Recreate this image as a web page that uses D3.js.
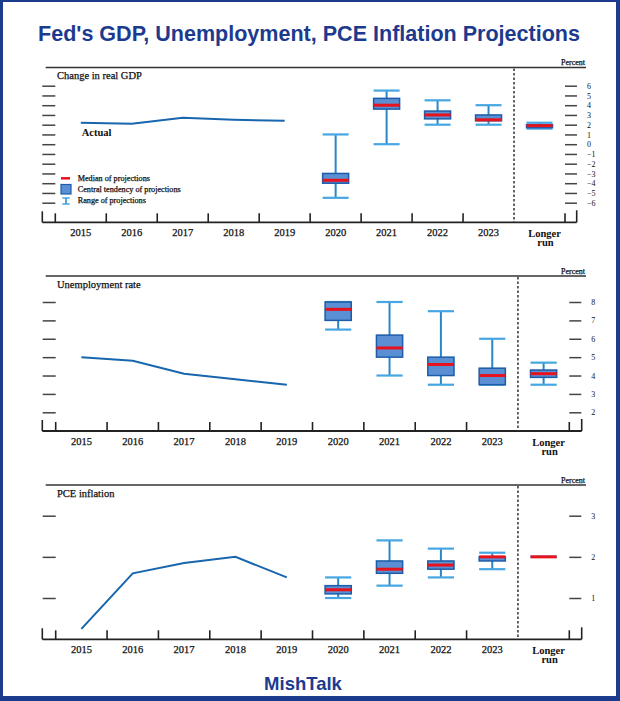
<!DOCTYPE html>
<html>
<head>
<meta charset="utf-8">
<script src="https://cdn.jsdelivr.net/npm/d3@7"></script>
<style>
  body { margin: 0; background: #fff; }
  svg { display: block; }
  text { font-family: "Liberation Serif", "Times New Roman", serif; fill: #111; }
  .heavy { stroke: #111; stroke-width: 0.25px; }
</style>
</head>
<body>
<svg id="chart" width="620" height="701"></svg>
<script>
// categories along the x axis
var categories = ["2015", "2016", "2017", "2018", "2019", "2020", "2021", "2022", "2023", "Longer run"];
var actualYears = ["2015", "2016", "2017", "2018", "2019"];
var projYears = ["2020", "2021", "2022", "2023", "Longer run"];

// Change in real GDP
var gdpActual = [2.2, 2.1, 2.7, 2.5, 2.4];
var gdpMedian = [-3.7, 4.0, 3.0, 2.5, 1.9];
var gdpCtLow = [-4.0, 3.6, 2.6, 2.4, 1.7];
var gdpCtHigh = [-3.0, 4.7, 3.4, 3.0, 2.0];
var gdpRangeLow = [-5.5, 0.0, 2.0, 2.0, 1.6];
var gdpRangeHigh = [1.0, 5.5, 4.5, 4.0, 2.2];
var gdpTicks = [-6, -5, -4, -3, -2, -1, 0, 1, 2, 3, 4, 5, 6];

// Unemployment rate
var unempActual = [5.0, 4.8, 4.1, 3.8, 3.5];
var unempMedian = [7.6, 5.5, 4.6, 4.0, 4.1];
var unempCtLow = [7.0, 5.0, 4.0, 3.5, 3.9];
var unempCtHigh = [8.0, 6.2, 5.0, 4.4, 4.3];
var unempRangeLow = [6.5, 4.0, 3.5, 3.5, 3.5];
var unempRangeHigh = [8.0, 8.0, 7.5, 6.0, 4.7];
var unempTicks = [2, 3, 4, 5, 6, 7, 8];

// PCE inflation
var pceActual = [0.25, 1.6, 1.85, 2.0, 1.5];
var pceMedian = [1.2, 1.7, 1.8, 2.0, 2.0];
var pceCtLow = [1.1, 1.6, 1.7, 1.9, 2.0];
var pceCtHigh = [1.3, 1.9, 1.9, 2.0, 2.0];
var pceRangeLow = [1.0, 1.3, 1.5, 1.7, 2.0];
var pceRangeHigh = [1.5, 2.4, 2.2, 2.1, 2.0];
var pceTicks = [1, 2, 3];

var navy = "#1c3a8e";
var svg = d3.select("#chart");

// layout of the three panels
var panels = [
  { title: "Change in real GDP", actual: gdpActual, median: gdpMedian, ctLow: gdpCtLow, ctHigh: gdpCtHigh,
    rLow: gdpRangeLow, rHigh: gdpRangeHigh, ticks: gdpTicks, yRange: [202.7, 85.7],
    top: 67.5, base: 222.3, x0: 55.3, x1: 565, rightV: 576.7, legend: true },
  { title: "Unemployment rate", actual: unempActual, median: unempMedian, ctLow: unempCtLow, ctHigh: unempCtHigh,
    rLow: unempRangeLow, rHigh: unempRangeHigh, ticks: unempTicks, yRange: [412.3, 302],
    top: 276, base: 431, x0: 55.7, x1: 569.3, rightV: 581.7 },
  { title: "PCE inflation", actual: pceActual, median: pceMedian, ctLow: pceCtLow, ctHigh: pceCtHigh,
    rLow: pceRangeLow, rHigh: pceRangeHigh, ticks: pceTicks, yRange: [598, 515.7],
    top: 485, base: 639.3, x0: 55.7, x1: 569.3, rightV: 581.7 }
];

// frame
svg.append("rect").attr("x", 0).attr("y", 0).attr("width", 620).attr("height", 701).attr("fill", "#fff");
svg.append("rect").attr("x", 0).attr("y", 0).attr("width", 3).attr("height", 701).attr("fill", navy);
svg.append("rect").attr("x", 0).attr("y", 0).attr("width", 620).attr("height", 2).attr("fill", navy);
svg.append("rect").attr("x", 616).attr("y", 0).attr("width", 4).attr("height", 701).attr("fill", navy);
svg.append("rect").attr("x", 0).attr("y", 696).attr("width", 620).attr("height", 5).attr("fill", navy);

svg.append("text")
  .attr("x", 309).attr("y", 41)
  .attr("text-anchor", "middle")
  .style("font-family", "'Liberation Sans', Arial, sans-serif")
  .style("font-weight", "bold").style("font-size", "21.5px").style("fill", navy)
  .attr("textLength", 542).attr("lengthAdjust", "spacingAndGlyphs")
  .text("Fed's GDP, Unemployment, PCE Inflation Projections");

svg.append("text")
  .attr("x", 303).attr("y", 690)
  .attr("text-anchor", "middle")
  .style("font-family", "'Liberation Sans', Arial, sans-serif")
  .style("font-weight", "bold").style("font-size", "18.5px").style("fill", navy)
  .text("MishTalk");

panels.forEach(drawPanel);

function drawPanel(p) {
  var g = svg.append("g");
  var x = d3.scaleBand().domain(categories).range([p.x0, p.x1]);
  var y = d3.scaleLinear().domain(d3.extent(p.ticks)).range(p.yRange);
  var bw = x.bandwidth();
  var boxW = bw * 0.51;
  var cx = function(c) { return x(c) + bw / 2; };

  // top rule and headings
  g.append("line").attr("x1", 45.7).attr("x2", 586).attr("y1", p.top).attr("y2", p.top)
    .attr("stroke", "#333").attr("stroke-width", 1.5);
  g.append("text").attr("class", "heavy").attr("x", 585).attr("y", p.top - 2.5).attr("text-anchor", "end")
    .style("font-size", "8px").text("Percent");
  g.append("text").attr("class", "heavy").attr("x", 57).attr("y", p.top + 11.5)
    .style("font-size", "10.5px").text(p.title);

  // left and right tick marks
  g.append("g").attr("transform", "translate(" + p.x0 + ",0)")
    .call(d3.axisLeft(y).tickValues(p.ticks).tickSize(13).tickFormat(""))
    .call(function(a) { a.select(".domain").remove(); a.selectAll("line").attr("stroke", "#444").attr("stroke-width", 1.5); });
  g.append("g").attr("transform", "translate(" + p.x1 + ",0)")
    .call(d3.axisRight(y).tickValues(p.ticks).tickSize(12).tickPadding(10).tickFormat(d3.format("d")))
    .call(function(a) {
      a.select(".domain").remove();
      a.selectAll("line").attr("stroke", "#444").attr("stroke-width", 1.5);
      a.selectAll("text").attr("fill", "#222").style("font-size", "8px").style("font-family", "'Liberation Serif', serif");
    });

  // bottom axis
  g.append("line").attr("x1", 42.3).attr("x2", p.rightV).attr("y1", p.base).attr("y2", p.base)
    .attr("stroke", "#222").attr("stroke-width", 1.8);
  g.append("line").attr("x1", 42.3).attr("x2", 42.3).attr("y1", p.base - 11).attr("y2", p.base)
    .attr("stroke", "#222").attr("stroke-width", 1.6);
  g.append("line").attr("x1", p.rightV).attr("x2", p.rightV).attr("y1", p.base - 12).attr("y2", p.base)
    .attr("stroke", "#222").attr("stroke-width", 1.6);
  var bounds = categories.map(function(c) { return x(c); }).concat([p.x1]);
  g.selectAll(".xtick").data(bounds.filter(function(b) { return b !== x("Longer run"); }))
    .enter().append("line")
    .attr("x1", function(d) { return d; }).attr("x2", function(d) { return d; })
    .attr("y1", p.base - 9).attr("y2", p.base)
    .attr("stroke", "#222").attr("stroke-width", 1.6);
  g.append("line").attr("x1", x("Longer run")).attr("x2", x("Longer run"))
    .attr("y1", p.top + 1).attr("y2", p.base)
    .attr("stroke", "#333").attr("stroke-width", 1.5).attr("stroke-dasharray", "2.5,2");

  g.selectAll(".ylab").data(categories.slice(0, 9)).enter().append("text")
    .attr("class", "heavy")
    .attr("x", cx).attr("y", p.base + 14).attr("text-anchor", "middle")
    .style("font-size", "10.5px").text(function(d) { return d; });
  var lr = g.append("text").attr("text-anchor", "middle").style("font-size", "10.5px").style("font-weight", "bold");
  lr.append("tspan").attr("x", cx("Longer run") + 5).attr("y", p.base + 14.5).text("Longer");
  lr.append("tspan").attr("x", cx("Longer run") + 6).attr("y", p.base + 24).text("run");

  // actual history
  var line = d3.line().x(function(d, i) { return cx(actualYears[i]); }).y(function(d) { return y(d); });
  g.append("path").datum(p.actual).attr("d", line)
    .attr("fill", "none").attr("stroke", "#1766ae").attr("stroke-width", 2);

  // projections
  projYears.forEach(function(c, i) {
    var xc = cx(c);
    g.append("line").attr("x1", xc).attr("x2", xc).attr("y1", y(p.rLow[i])).attr("y2", y(p.rHigh[i]))
      .attr("stroke", "#2a86c8").attr("stroke-width", 2);
    [p.rLow[i], p.rHigh[i]].forEach(function(v) {
      g.append("line").attr("x1", xc - boxW / 2).attr("x2", xc + boxW / 2).attr("y1", y(v)).attr("y2", y(v))
        .attr("stroke", "#45a6e2").attr("stroke-width", 2.2);
    });
    g.append("rect").attr("x", xc - boxW / 2).attr("width", boxW)
      .attr("y", y(p.ctHigh[i])).attr("height", y(p.ctLow[i]) - y(p.ctHigh[i]))
      .attr("fill", "#5b8fd4").attr("stroke", "#1d5ca8").attr("stroke-width", 1.5);
    g.append("line").attr("x1", xc - boxW / 2).attr("x2", xc + boxW / 2)
      .attr("y1", y(p.median[i])).attr("y2", y(p.median[i]))
      .attr("stroke", "#e8121c").attr("stroke-width", 3);
  });

  if (p.legend) {
    g.append("text").attr("x", 81.7).attr("y", 136).style("font-size", "10.5px").style("font-weight", "bold").text("Actual");
    g.append("line").attr("x1", 61).attr("x2", 70).attr("y1", 178.3).attr("y2", 178.3)
      .attr("stroke", "#e8121c").attr("stroke-width", 2.5);
    g.append("rect").attr("x", 61).attr("y", 184.5).attr("width", 10).attr("height", 9.5)
      .attr("fill", "#5b8fd4").attr("stroke", "#1d5ca8").attr("stroke-width", 1.2);
    g.append("line").attr("x1", 66).attr("x2", 66).attr("y1", 198).attr("y2", 204).attr("stroke", "#2a86c8").attr("stroke-width", 1.5);
    g.append("line").attr("x1", 62.3).attr("x2", 69.7).attr("y1", 198).attr("y2", 198).attr("stroke", "#45a6e2").attr("stroke-width", 1.5);
    g.append("line").attr("x1", 62.3).attr("x2", 69.7).attr("y1", 204).attr("y2", 204).attr("stroke", "#45a6e2").attr("stroke-width", 1.5);
    var labels = ["Median of projections", "Central tendency of projections", "Range of projections"];
    var ly = [180.8, 191.8, 203.2];
    labels.forEach(function(t, i) {
      g.append("text").attr("class", "heavy").attr("x", 77.7).attr("y", ly[i]).style("font-size", "8.2px").text(t);
    });
  }
}
</script>
</body>
</html>
